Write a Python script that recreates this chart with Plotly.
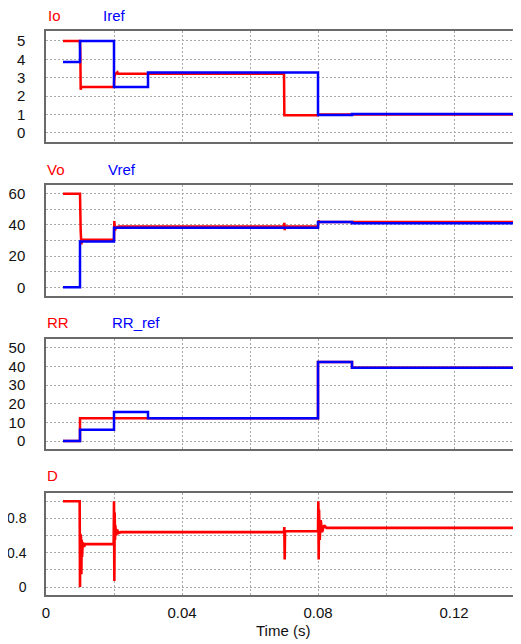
import plotly.graph_objects as go

# ---------------- data ----------------
io_t = [0.005, 0.0100, 0.0101, 0.0102, 0.0104, 0.0107, 0.0200, 0.0201, 0.0204, 0.0210, 0.0212, 0.0700, 0.0701, 0.0800, 0.0802, 0.1400]
io_v = [5.0, 5.0, 4.3, 2.35, 2.5, 2.5, 2.5, 3.05, 3.2, 3.3, 3.22, 3.22, 0.96, 0.96, 1.0, 1.0]

iref_t = [0.005, 0.01, 0.01, 0.02, 0.02, 0.03, 0.03, 0.08, 0.08, 0.09, 0.09, 0.14]
iref_v = [3.85, 3.85, 5.0, 5.0, 2.5, 2.5, 3.28, 3.28, 0.97, 0.97, 1.03, 1.03]

vo_t = [0.005, 0.0100, 0.0102, 0.0104, 0.0106, 0.0110, 0.0200, 0.0201, 0.0203, 0.0206, 0.0215,
        0.0700, 0.0701, 0.0702, 0.0703, 0.0800, 0.0801, 0.0805, 0.0900, 0.1400]
vo_v = [60, 60, 36, 27.5, 30.5, 30.5, 30.5, 42.5, 36.5, 38.5, 39, 39, 41.3, 36.6, 39, 39, 42.6, 42, 41.8, 41.8]

vref_t = [0.005, 0.01, 0.01, 0.02, 0.02, 0.08, 0.08, 0.09, 0.09, 0.14]
vref_v = [0, 0, 29.3, 29.3, 38.1, 38.1, 41.8, 41.8, 41.1, 41.1]

rr_t = [0.005, 0.01, 0.01, 0.08, 0.08, 0.09, 0.09, 0.14]
rr_v = [0, 0, 12.2, 12.2, 42.5, 42.5, 39.4, 39.4]

rrref_t = [0.005, 0.01, 0.01, 0.02, 0.02, 0.03, 0.03, 0.08, 0.08, 0.09, 0.09, 0.14]
rrref_v = [0, 0, 6.1, 6.1, 15.6, 15.6, 12.2, 12.2, 42.5, 42.5, 39.4, 39.4]

d_t = [0.005, 0.0099, 0.0100, 0.0101, 0.0102, 0.0103, 0.0104, 0.0105, 0.0106, 0.0108, 0.0112, 0.0115,
       0.0199, 0.0200, 0.0201, 0.0202, 0.0203, 0.0204, 0.0206, 0.0209, 0.0213, 0.0220,
       0.0700, 0.0701, 0.0702, 0.0703, 0.0800, 0.0801, 0.0802, 0.0803, 0.0805, 0.0808, 0.0812, 0.0818, 0.0825, 0.1400]
d_v = [1.0, 1.0, 0.0, 0.62, 0.02, 0.58, 0.15, 0.55, 0.35, 0.52, 0.47, 0.5,
       0.5, 1.0, 0.07, 0.87, 0.55, 0.72, 0.6, 0.67, 0.63, 0.64,
       0.64, 0.70, 0.32, 0.65, 0.65, 1.0, 0.32, 0.9, 0.55, 0.78, 0.64, 0.72, 0.69, 0.69]

x_ticks = [0, 0.04, 0.08, 0.12]
x_tick_text = ["0", "0.04", "0.08", "0.12"]

RED = "#ff0000"
BLUE = "#0000ff"
# page body has an 8px margin; the figure fills the rest of the 521x644 window
OFF = 8
W, H = 521 - OFF, 644 - OFF

def px(p):
    return (p - OFF) / W

def py(p):
    return 1 - (p - OFF) / H

panels = [
    # (top px, bottom px, yrange, dtick, minor dtick, tick font size, standoff)
    (31, 142, [-0.49, 5.54], 1, None, 15, 16),
    (185, 296, [-5.6, 65.6], 20, 10, 15, 16),
    (339, 449, [-4.3, 54.8], 10, None, 15, 16),
    (493, 595, [-0.093, 1.097], 0.4, 0.2, 14, 15),
]

fig = go.Figure()

series = [
    (1, io_t, io_v, RED, 2.5), (1, iref_t, iref_v, BLUE, 2.5),
    (2, vo_t, vo_v, RED, 2.5), (2, vref_t, vref_v, BLUE, 2.5),
    (3, rr_t, rr_v, RED, 2.5), (3, rrref_t, rrref_v, BLUE, 2.5),
    (4, d_t, d_v, RED, 2.6),
]
for k, t, v, c, w in series:
    sfx = "" if k == 1 else str(k)
    fig.add_trace(go.Scatter(x=t, y=v, mode="lines", line=dict(color=c, width=w),
                             xaxis="x" + sfx, yaxis="y" + sfx, showlegend=False,
                             hoverinfo="skip"))

GRID = "#a8a8a8"
FRAME = "#6a6a6a"
FONT = "Liberation Sans, Arial, sans-serif"

for i, (top, bot, yr, dt, mdt, fs, so) in enumerate(panels):
    k = i + 1
    sfx = "" if k == 1 else str(k)
    xa = dict(domain=[px(46), 1.0], range=[0, 0.1397], anchor="y" + sfx, automargin=False,
              tickvals=x_ticks, ticktext=x_tick_text, showticklabels=(k == 4),
              showgrid=True, gridcolor=GRID, griddash="2px,2px", gridwidth=1,
              minor=dict(dtick=0.02, tick0=0, showgrid=True, gridcolor=GRID, griddash="2px,2px", gridwidth=1),
              showline=True, linecolor=FRAME, linewidth=1.5, mirror=True,
              zeroline=False, ticks="", tickfont=dict(family=FONT, size=15, color="#111"),
              ticklabelstandoff=3)
    ya = dict(domain=[py(bot), py(top)], range=yr, anchor="x" + sfx, automargin=False,
              dtick=dt, tick0=0, showgrid=True, gridcolor=GRID, griddash="2px,2px", gridwidth=1,
              showline=True, linecolor=FRAME, linewidth=1.5, mirror=False,
              zeroline=False, ticks="", tickfont=dict(family=FONT, size=fs, color="#111"),
              ticklabelstandoff=so)
    if mdt:
        ya["minor"] = dict(dtick=mdt, tick0=0, showgrid=True, gridcolor=GRID, griddash="2px,2px", gridwidth=1)
    fig.update_layout(**{"xaxis" + sfx: xa, "yaxis" + sfx: ya})

labels = [
    ("Io", 47, 15, RED), ("Iref", 102, 15, BLUE),
    ("Vo", 46, 169, RED), ("Vref", 107, 169, BLUE),
    ("RR", 46, 323, RED), ("RR_ref", 111, 323, BLUE),
    ("D", 46, 476, RED),
]
for txt, x, y, c in labels:
    fig.add_annotation(text=txt, x=px(x), y=py(y), xref="paper", yref="paper",
                       xanchor="left", yanchor="middle", showarrow=False, borderpad=0,
                       font=dict(family=FONT, size=15, color=c))
fig.add_annotation(text="Time (s)", x=px(283), y=py(630), xref="paper", yref="paper",
                   xanchor="center", yanchor="middle", showarrow=False, borderpad=0,
                   font=dict(family=FONT, size=15, color="#111"))

fig.update_layout(width=W, height=H, margin=dict(l=0, r=0, t=0, b=0),
                  paper_bgcolor="white", plot_bgcolor="white")

fig.write_html("out.html")
